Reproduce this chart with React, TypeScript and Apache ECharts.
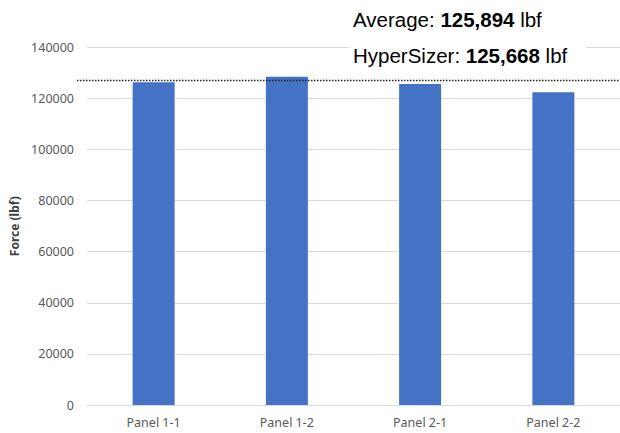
import React, { useEffect, useRef } from "react";
import * as echarts from "echarts";

const categories = ["Panel 1-1", "Panel 1-2", "Panel 2-1", "Panel 2-2"];
const forceValues = [126300, 128500, 125600, 122400];
const referenceLine = 127000;
const yTicks = { min: 0, max: 140000, interval: 20000 };
const averageText = "125,894";
const hyperSizerText = "125,668";

export default function App() {
  const ref = useRef<HTMLDivElement>(null);
  useEffect(() => {
    const el = ref.current!;
    const chart = echarts.init(el, null, { renderer: "svg" });
    const labelFont = "'Noto Sans', 'Open Sans', sans-serif";
    const option: any = {
      animation: false,
      backgroundColor: "#ffffff",
      grid: { left: 87, top: 47.3, width: 536.5, height: 357.7, containLabel: false },
      xAxis: {
        type: "category",
        data: categories,
        axisLine: { show: true, lineStyle: { color: "#d9d9d9", width: 1 } },
        axisTick: { show: false },
        axisLabel: { color: "#595959", fontSize: 12.5, fontFamily: labelFont, margin: 11 },
      },
      yAxis: {
        type: "value",
        min: yTicks.min,
        max: yTicks.max,
        interval: yTicks.interval,
        name: "Force (lbf)",
        nameLocation: "middle",
        nameRotate: 90,
        nameGap: 64,
        nameTextStyle: { color: "#404040", fontSize: 12, fontWeight: "bold", fontFamily: labelFont },
        axisLine: { show: false },
        axisTick: { show: false },
        axisLabel: {
          color: "#595959",
          fontSize: 12.5,
          fontFamily: labelFont,
          margin: 13,
          formatter: (v: number) => String(v),
        },
        splitLine: { lineStyle: { color: "#d9d9d9", width: 1 } },
      },
      series: [
        {
          type: "bar",
          data: forceValues,
          barWidth: 42,
          itemStyle: { color: "#4472C4" },
        },
      ],
    };
    chart.setOption(option);
    const yPix = chart.convertToPixel({ yAxisIndex: 0 }, referenceLine) as number;
    const textFont = "'Liberation Sans', Arial, sans-serif";
    const rich = {
      n: { fontSize: 20.5, fontFamily: textFont, color: "#111111" },
      b: { fontSize: 20.5, fontFamily: textFont, color: "#111111", fontWeight: "bold" },
    };
    chart.setOption({
      graphic: [
        {
          type: "rect",
          shape: { x: 349, y: 0, width: 237, height: 72 },
          style: { fill: "#ffffff" },
          z: 10,
        },
        {
          type: "text",
          x: 353,
          y: 19.5,
          z: 11,
          style: {
            text: `{n|Average: }{b|${averageText}}{n| lbf}`,
            rich,
            verticalAlign: "middle",
            align: "left",
          },
        },
        {
          type: "text",
          x: 353,
          y: 55.5,
          z: 11,
          style: {
            text: `{n|HyperSizer: }{b|${hyperSizerText}}{n| lbf}`,
            rich,
            verticalAlign: "middle",
            align: "left",
          },
        },
        {
          type: "line",
          z: 12,
          shape: { x1: 77, y1: yPix, x2: 620, y2: yPix },
          style: { stroke: "#222222", lineWidth: 1.5, lineDash: [1.5, 1.5] },
        },
      ],
    });
    return () => chart.dispose();
  }, []);
  return <div ref={ref} style={{ width: 620, height: 433, position: "absolute", left: 0, top: 0 }} />;
}
